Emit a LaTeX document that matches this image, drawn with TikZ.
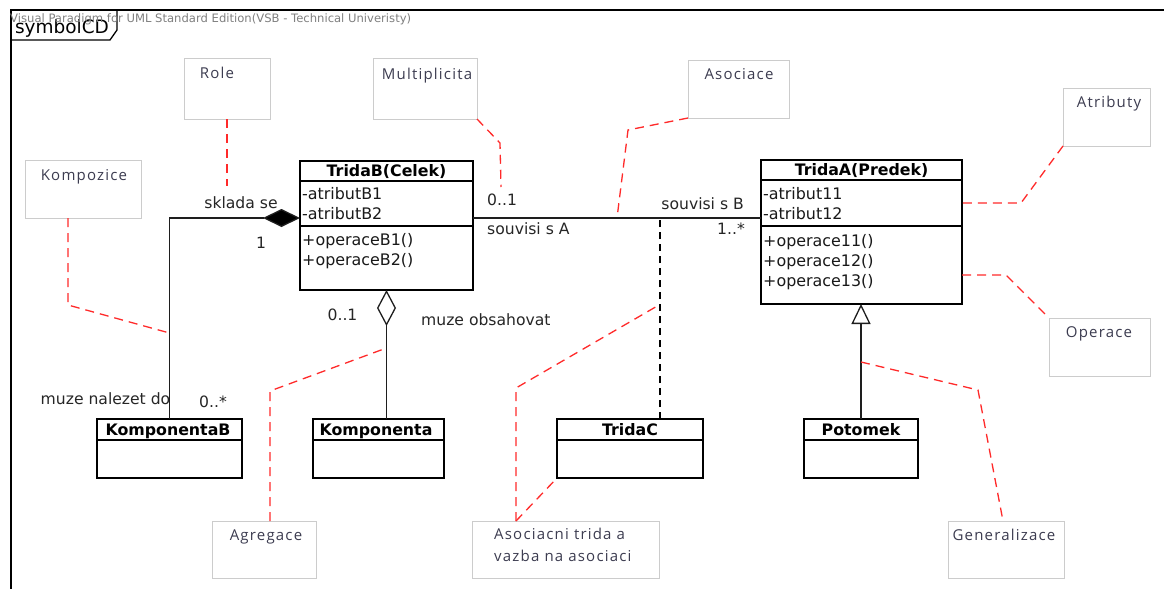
\documentclass[tikz,border=0pt]{standalone}
\usepackage{fontspec}
\setmainfont{DejaVu Sans}
\newfontfamily\notefont[LetterSpace=8]{Open Sans}
\usetikzlibrary{arrows.meta}
\definecolor{notegray}{HTML}{CCCCCC}
\definecolor{notetext}{HTML}{3C3C50}
\definecolor{dashred}{HTML}{FF2A2A}
\definecolor{linegray}{HTML}{1E1E1E}
\definecolor{hdrgray}{HTML}{808080}
\begin{document}
\begin{tikzpicture}[x=1pt,y=-1pt,
  umlbox/.style={draw=black, line width=1.5pt, anchor=north west, inner sep=0pt, outer sep=0pt},
  notebox/.style={draw=notegray, line width=1pt, anchor=north west, inner sep=0pt, outer sep=0pt},
  notetxt/.style={font=\notefont\fontsize{15}{22}\selectfont, text=notetext, inner sep=0pt, text height=11pt, text depth=0pt},
  ctitle/.style={font=\fontsize{15.8}{18}\selectfont\bfseries, inner sep=0pt, text height=11.5pt, text depth=0pt},
  cmem/.style={font=\fontsize{15.9}{18}\selectfont, anchor=west, inner sep=0pt, text height=11.5pt, text depth=0pt, text=black!90},
  lbl/.style={font=\fontsize{15.6}{18}\selectfont, inner sep=0pt, text height=11pt, text depth=0pt, text=black!85},
  sepline/.style={draw=black, line width=1.2pt},
  conn/.style={draw=linegray, line width=1.3pt},
  reddash/.style={draw=dashred, line width=1.3pt, dash pattern=on 9pt off 6pt},
  blackdash/.style={draw=black, line width=1.3pt, dash pattern=on 7pt off 5pt},
]
\useasboundingbox[fill=white] (0,0) rectangle (1164,589);

% frame
\coordinate (frtr) at (1164,10);
\coordinate (frtl) at (11,10);
\coordinate (frbl) at (11,589);
\draw[line width=1.5pt] (frtr) -- (frtl) -- (frbl);
\coordinate (tab1) at (11,40);
\coordinate (tab2) at (110,40);
\coordinate (tab3) at (117,30);
\coordinate (tab4) at (117,10);
\draw[line width=1.3pt] (tab1) -- (tab2) -- (tab3) -- (tab4);
\node[font=\fontsize{18.5}{20}\selectfont, inner sep=0pt, text height=13pt, text depth=0pt] (frname) at (62,27) {symbolCD};
\node[font=\fontsize{11.6}{13}\selectfont, text=hdrgray, anchor=west, inner sep=0pt, text height=8.5pt, text depth=0pt] (hdr) at (10,18) {Visual Paradigm for UML Standard Edition(VSB - Technical Univeristy)};

% ---- classes ----
% TridaB
\node[umlbox, minimum width=173pt, minimum height=129pt] (TB) at (300,161) {};
\node[ctitle] (TBt) at (386.5,171) {TridaB(Celek)};
\draw[sepline] (TB.west |- 0,181) -- (TB.east |- 0,181);
\draw[sepline] (TB.west |- 0,226) -- (TB.east |- 0,226);
\node[cmem] (TBa1) at (302,194) {-atributB1};
\node[cmem] (TBa2) at (302,214) {-atributB2};
\node[cmem] (TBo1) at (302,240) {+operaceB1()};
\node[cmem] (TBo2) at (302,260) {+operaceB2()};

% TridaA
\node[umlbox, minimum width=201pt, minimum height=144pt] (TA) at (761,160) {};
\node[ctitle] (TAt) at (861.5,170) {TridaA(Predek)};
\draw[sepline] (TA.west |- 0,180) -- (TA.east |- 0,180);
\draw[sepline] (TA.west |- 0,226) -- (TA.east |- 0,226);
\node[cmem] (TAa1) at (763,194) {-atribut11};
\node[cmem] (TAa2) at (763,214) {-atribut12};
\node[cmem] (TAo1) at (763,241) {+operace11()};
\node[cmem] (TAo2) at (763,261) {+operace12()};
\node[cmem] (TAo3) at (763,281) {+operace13()};

% KomponentaB
\node[umlbox, minimum width=145pt, minimum height=59pt] (KB) at (97,419) {};
\node[ctitle] (KBt) at (168,430) {KomponentaB};
\draw[sepline] (KB.west |- 0,440) -- (KB.east |- 0,440);
% Komponenta
\node[umlbox, minimum width=131pt, minimum height=59pt] (K) at (313,419) {};
\node[ctitle] (Kt) at (376,430) {Komponenta};
\draw[sepline] (K.west |- 0,440) -- (K.east |- 0,440);
% TridaC
\node[umlbox, minimum width=146pt, minimum height=59pt] (TC) at (557,419) {};
\node[ctitle] (TCt) at (630,430) {TridaC};
\draw[sepline] (TC.west |- 0,440) -- (TC.east |- 0,440);
% Potomek
\node[umlbox, minimum width=114pt, minimum height=59pt] (P) at (804,419) {};
\node[ctitle] (Pt) at (861,430) {Potomek};
\draw[sepline] (P.west |- 0,440) -- (P.east |- 0,440);

% ---- connectors ----
\coordinate (ay) at (0,218);
% composition
\draw[conn, -{Diamond[length=37pt, width=18pt, fill=black]}] (KB.north) |- (TB.west |- ay);
% association
\draw[conn] (TB.east |- ay) -- (TA.west |- ay);
% association class
\coordinate (acx) at (660,0);
\draw[blackdash] (TC.north -| acx) -- (acx |- ay);
% aggregation
\draw[conn, -{Diamond[open, length=36pt, width=19pt, fill=white]}] (TB.south |- K.north) -- (TB.south);
% generalization
\draw[conn, -{Triangle[open, length=20pt, width=19pt, fill=white]}] (P.north) -- (P.north |- TA.south);

% ---- connector labels ----
\node[lbl] (lsk) at (241,203) {sklada se};
\node[lbl] (l1) at (261,243) {1};
\node[lbl] (lmn) at (105.5,399) {muze nalezet do};
\node[lbl] (l0s) at (213,402) {0..*};
\node[lbl] (l01a) at (342.5,315) {0..1};
\node[lbl, anchor=west] (lmo) at (421,320) {muze obsahovat};
\node[lbl, anchor=west] (l01b) at (487,200) {0..1};
\node[lbl, anchor=west] (lsA) at (487,229) {souvisi s A};
\node[lbl, anchor=east] (lsB) at (744,204) {souvisi s B};
\node[lbl, anchor=east] (l1s) at (745,229) {1..*};

% ---- notes ----
\node[notebox, minimum width=86pt, minimum height=61pt] (role) at (184,58) {};
\node[notetxt] (roleT) at (217,73) {Role};
\node[notebox, minimum width=104pt, minimum height=61pt] (mult) at (373,58) {};
\node[notetxt] (multT) at (427,74) {Multiplicita};
\node[notebox, minimum width=101pt, minimum height=58pt] (asoc) at (688,60) {};
\node[notetxt] (asocT) at (739,74) {Asociace};
\node[notebox, minimum width=87pt, minimum height=58pt] (atr) at (1063,88) {};
\node[notetxt] (atrT) at (1109,102) {Atributy};
\node[notebox, minimum width=116pt, minimum height=58pt] (komp) at (25,160) {};
\node[notetxt] (kompT) at (84,175) {Kompozice};
\node[notebox, minimum width=101pt, minimum height=58pt] (oper) at (1049,318) {};
\node[notetxt] (operT) at (1099,332) {Operace};
\node[notebox, minimum width=104pt, minimum height=57pt] (agr) at (212,521) {};
\node[notetxt] (agrT) at (266,535) {Agregace};
\node[notebox, minimum width=187pt, minimum height=57pt] (ast) at (472,521) {};
\node[notetxt, anchor=north west, text height=, align=left, font=\notefont\fontsize{15}{22}\selectfont] (astT) at (494,528) {Asociacni trida a\\vazba na asociaci};
\node[notebox, minimum width=116pt, minimum height=57pt] (gen) at (948,521) {};
\node[notetxt] (genT) at (1004,535) {Generalizace};

% ---- note links ----
\coordinate (r1) at (227,186);
\draw[reddash] (role.south) -- (r1);
\coordinate (m1) at (500,143);
\coordinate (m2) at (501,187);
\draw[reddash] (mult.south east) -- (m1) -- (m2);
\coordinate (a1) at (628,130);
\coordinate (a2) at (617,218);
\draw[reddash] (asoc.south west) -- (a1) -- (a2);
\coordinate (t1) at (1021,203);
\coordinate (t2) at (0,203);
\draw[reddash] (atr.south west) -- (t1) -- (TA.east |- t2);
\coordinate (o1) at (1006,275);
\coordinate (o2) at (0,275);
\draw[reddash] (TA.east |- o2) -- (o1) -- (oper.north west);
\coordinate (k0) at (68,0);
\coordinate (k1) at (68,305);
\coordinate (k2) at (169.5,333);
\draw[reddash] (komp.south -| k0) -- (k1) -- (k2);
\coordinate (g0) at (270,0);
\coordinate (g1) at (270,391);
\coordinate (g2) at (386.5,348);
\draw[reddash] (agr.north -| g0) -- (g1) -- (g2);
\coordinate (s0) at (516,0);
\coordinate (s1) at (516,388);
\coordinate (s2) at (659,305);
\draw[reddash] (ast.north -| s0) -- (s1) -- (s2);
\draw[reddash] (ast.north -| s0) -- (TC.south west);
\coordinate (e1) at (861,362);
\coordinate (e2) at (978,390);
\coordinate (e0) at (1003,0);
\draw[reddash] (e1) -- (e2) -- (gen.north -| e0);
\end{tikzpicture}
\end{document}
